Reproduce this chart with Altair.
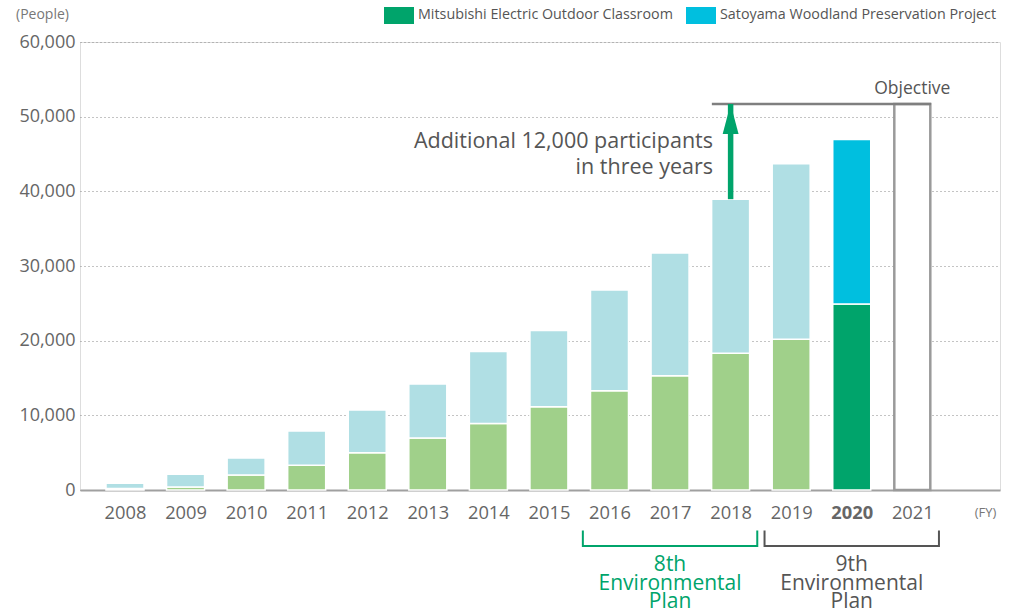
import altair as alt
import pandas as pd

# ---- data ----
years = list(range(2008, 2021))
classroom = [200, 400, 2000, 3300, 5000, 6950, 8900, 11150, 13300, 15300, 18300, 20200, 24900]
satoyama = [700, 1700, 2300, 4600, 5700, 7250, 9650, 10200, 13500, 16450, 20650, 23500, 22050]
series_names = ["Mitsubishi Electric Outdoor Classroom", "Satoyama Woodland Preservation Project"]
highlight_year = 2020
axis_years = list(range(2008, 2022))
y_ticks = [0, 10000, 20000, 30000, 40000, 50000, 60000]

objective_year = 2021
objective_value = 51700
arrow_year = 2018
arrow_base = 38950
objective_line_x = [2017.69, 2021.31]

plan_labels = [["8th", "Environmental", "Plan"], ["9th", "Environmental", "Plan"]]
plan_start = [2015.56, 2018.56]
plan_end = [2018.44, 2021.44]
plan_center = [2017, 2020]

annotation_lines = ["Additional 12,000 participants", "in three years"]

# ---- styles ----
FONT = "Open Sans"
C_GREEN_DARK = "#00a46b"
C_CYAN = "#00bfdf"
C_GREEN_LIGHT = "#a0d08a"
C_BLUE_LIGHT = "#b0dfe4"
C_TEXT = "#666666"
C_DARK = "#555555"
plan_colors = [C_GREEN_DARK, "#555555"]

rows = []
for i, yr in enumerate(years):
    hl = yr == highlight_year
    rows.append({"year": yr, "series": series_names[0], "value": classroom[i], "order": 0,
                 "color": C_GREEN_DARK if hl else C_GREEN_LIGHT})
    rows.append({"year": yr, "series": series_names[1], "value": satoyama[i], "order": 1,
                 "color": C_CYAN if hl else C_BLUE_LIGHT})
bars_df = pd.DataFrame(rows)

x_scale = alt.Scale(domain=[2007.257, 2022.448], nice=False, zero=False, padding=0)
y_scale = alt.Scale(domain=[0, 60000], nice=False, zero=True)

bars = alt.Chart(bars_df).mark_bar(size=38, stroke="white", strokeWidth=1.5).encode(
    x=alt.X("year:Q", scale=x_scale,
            axis=alt.Axis(values=axis_years, format="d", title=None, grid=False, ticks=False,
                          labelFontSize=18.3, labelColor=C_TEXT, labelFont=FONT, labelPadding=14,
                          domainColor="#a0a0a0", domainWidth=2,
                          labelFontWeight={"condition": {"test": f"datum.value == {highlight_year}", "value": "bold"},
                                           "value": "normal"})),
    y=alt.Y("value:Q", stack="zero", scale=y_scale,
            axis=alt.Axis(values=y_ticks, format=",d", title=None, ticks=False, domain=False,
                          labelFontSize=18, labelColor=C_TEXT, labelFont=FONT, labelPadding=5,
                          gridDash=[1, 3], gridColor="#888888", gridWidth=1)),
    order=alt.Order("order:Q"),
    color=alt.Color("color:N", scale=None),
)

obj_df = pd.DataFrame({"year": [objective_year], "lo": [0], "hi": [objective_value]})
box = alt.Chart(obj_df).mark_bar(size=36, fill="white", stroke="#9a9a9a", strokeWidth=2.5).encode(
    x=alt.X("year:Q", scale=x_scale), y=alt.Y("lo:Q", scale=y_scale), y2="hi:Q")

line_df = pd.DataFrame({"x1": [objective_line_x[0]], "x2": [objective_line_x[1]], "v": [objective_value]})
obj_line = alt.Chart(line_df).mark_rule(color="#7f7f7f", strokeWidth=2.5).encode(
    x=alt.X("x1:Q", scale=x_scale), x2="x2:Q", y=alt.Y("v:Q", scale=y_scale))

obj_text = alt.Chart(obj_df).mark_text(font=FONT, fontSize=17.5, fontWeight=500, color=C_DARK,
                                       baseline="middle", dy=-15).encode(
    x=alt.X("year:Q", scale=x_scale), y=alt.Y("hi:Q", scale=y_scale), text=alt.value("Objective"))

arrow_df = pd.DataFrame({"year": [arrow_year], "lo": [arrow_base], "hi": [objective_value]})
shaft = alt.Chart(arrow_df).mark_rule(color=C_GREEN_DARK, strokeWidth=5.5).encode(
    x=alt.X("year:Q", scale=x_scale), y=alt.Y("lo:Q", scale=y_scale), y2="hi:Q")
head = alt.Chart(arrow_df).mark_point(shape="M0,-1L-0.53,1L0.53,1Z", size=900, filled=True,
                                      opacity=1, color=C_GREEN_DARK, strokeWidth=0, yOffset=15).encode(
    x=alt.X("year:Q", scale=x_scale), y=alt.Y("hi:Q", scale=y_scale))

single = pd.DataFrame({"a": [0]})
note = alt.Chart(single).mark_text(
    font=FONT, fontSize=21.5, fontWeight=500, color=C_DARK, align="right", baseline="middle",
    lineHeight=26).encode(x=alt.value(633), y=alt.value(100), text=alt.value(annotation_lines))

# plan brackets
plan_df = pd.DataFrame({"start": plan_start, "end": plan_end, "center": plan_center,
                        "color": plan_colors, "label": plan_labels})
br_h = alt.Chart(plan_df).mark_rule(strokeWidth=2).encode(
    x=alt.X("start:Q", scale=x_scale), x2="end:Q", y=alt.value(504),
    color=alt.Color("color:N", scale=None))
br_l = alt.Chart(plan_df).mark_rule(strokeWidth=2).encode(
    x=alt.X("start:Q", scale=x_scale), y=alt.value(488.5), y2=alt.value(505),
    color=alt.Color("color:N", scale=None))
br_r = alt.Chart(plan_df).mark_rule(strokeWidth=2).encode(
    x=alt.X("end:Q", scale=x_scale), y=alt.value(488.5), y2=alt.value(505),
    color=alt.Color("color:N", scale=None))
plan_text = alt.Chart(plan_df).mark_text(font=FONT, fontSize=21, fontWeight=500, baseline="middle",
                                         lineHeight=18.5).encode(
    x=alt.X("center:Q", scale=x_scale), y=alt.value(523), text="label",
    color=alt.Color("color:N", scale=None))

# small unit labels
people = alt.Chart(single).mark_text(font=FONT, fontSize=14, color="#777777", align="left",
                                     baseline="middle").encode(
    x=alt.value(-64), y=alt.value(-27), text=alt.value("(People)"))
fy = alt.Chart(single).mark_text(font=FONT, fontSize=13, color="#777777", align="center",
                                 baseline="middle").encode(
    x=alt.value(905.5), y=alt.value(471), text=alt.value("(FY)"))

# legend (manual)
leg_r1 = alt.Chart(single).mark_rect(color=C_GREEN_DARK).encode(
    x=alt.value(304), x2=alt.value(334), y=alt.value(-35), y2=alt.value(-18))
leg_r2 = alt.Chart(single).mark_rect(color=C_CYAN).encode(
    x=alt.value(606), x2=alt.value(636), y=alt.value(-35), y2=alt.value(-18))
leg_t1 = alt.Chart(single).mark_text(font=FONT, fontSize=14.3, color=C_DARK, align="left",
                                     baseline="middle").encode(
    x=alt.value(338), y=alt.value(-27), text=alt.value(series_names[0]))
leg_t2 = alt.Chart(single).mark_text(font=FONT, fontSize=14.3, color=C_DARK, align="left",
                                     baseline="middle").encode(
    x=alt.value(640), y=alt.value(-27), text=alt.value(series_names[1]))

chart = alt.layer(
    bars, box, obj_line, obj_text, shaft, head, note,
    br_h, br_l, br_r, plan_text, people, fy, leg_r1, leg_r2, leg_t1, leg_t2
).properties(
    width=920, height=448,
    padding={"left": 80, "top": 42, "right": 24, "bottom": 125},
    autosize=alt.AutoSizeParams(type="none"),
).configure_view(stroke=None).configure(background="white")

chart.save("out.html", embed_options={"renderer": "svg", "actions": False})
